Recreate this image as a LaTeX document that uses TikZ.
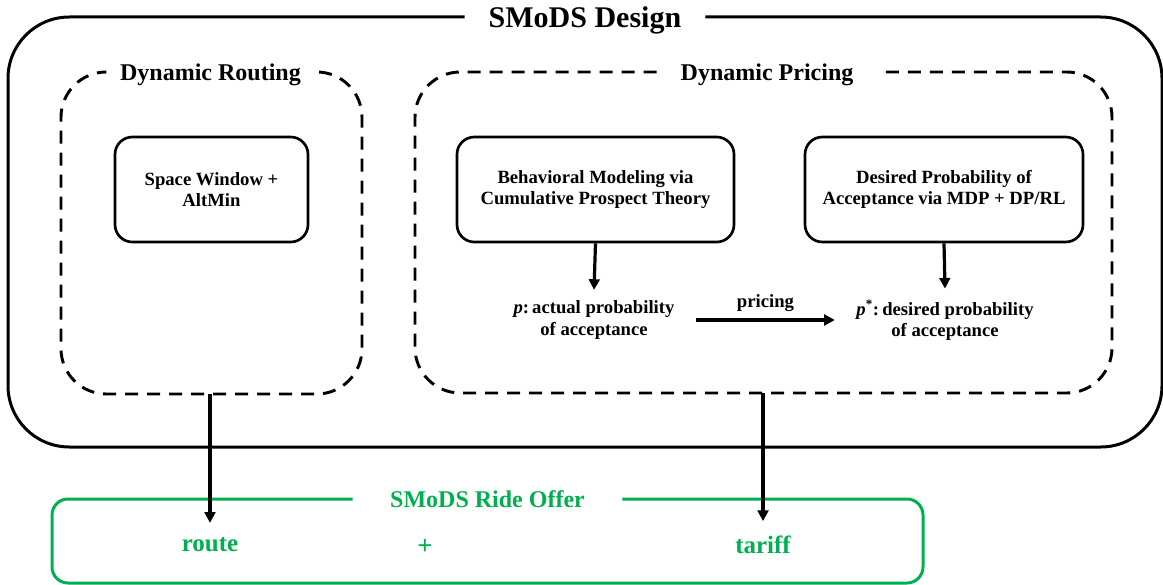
\documentclass[tikz,border=0pt]{standalone}
\usepackage{fontspec}
\setmainfont{Liberation Serif}
\usetikzlibrary{arrows.meta}
\definecolor{offergreen}{HTML}{00B050}
\tikzset{
  frame/.style={draw=none, inner sep=0pt, outer sep=0pt},
  bigtitle/.style={font=\bfseries\fontsize{22.5}{27}\selectfont, text depth=0pt, inner xsep=0pt, inner ysep=2pt},
  subtitle/.style={font=\bfseries\fontsize{18}{21}\selectfont, text depth=0pt, inner xsep=0pt, inner ysep=2pt},
  outerline/.style={line width=2.25pt, rounded corners=46pt},
  dashline/.style={line width=2.2pt, dash pattern=on 9.75pt off 6.75pt, rounded corners=34pt},
  greenline/.style={draw=offergreen, line width=2.25pt, rounded corners=12pt},
  stepbox/.style={draw, line width=2pt, rounded corners=13pt, align=center,
    font=\bfseries\fontsize{14}{16}\selectfont, inner sep=0pt},
  plain/.style={align=center, font=\bfseries\fontsize{14}{16}\selectfont, inner xsep=16pt, inner ysep=8pt},
  greentext/.style={text=offergreen, font=\bfseries\fontsize{18.75}{22}\selectfont},
  arr/.style={draw=black, line width=2.4pt, -{Triangle[width=8pt,length=8pt]}}
}
\begin{document}
\begin{tikzpicture}[x=0.75pt,y=-0.75pt]
\useasboundingbox (0,0) rectangle (1163,585);

% container frames (invisible nodes; borders drawn below)
\node[frame, minimum width=865.5pt, minimum height=322.5pt] (outer) at (585,232) {};
\node[frame, minimum width=225.75pt, minimum height=241.5pt] (routing) at (211.5,233) {};
\node[frame, minimum width=522.75pt, minimum height=240.75pt] (pricing) at (763.5,232.5) {};
\node[frame, minimum width=653.25pt, minimum height=63pt] (offer) at (487.5,541) {};

% titles
\node[bigtitle, minimum width=180pt] (dtitle) at (585,17) {SMoDS Design};
\node[subtitle, minimum width=161.25pt] (rtitle) at (210.5,72) {Dynamic Routing};
\node[subtitle, minimum width=165pt] (ptitle) at (767,72) {Dynamic Pricing};
\node[subtitle, text=offergreen, minimum width=201.75pt] (otitle) at (487.5,499) {SMoDS Ride Offer};

% borders
\draw[outerline] (dtitle.west) -- (outer.north west) -- (outer.south west)
  -- (outer.south east) -- (outer.north east) -- (dtitle.east);
\draw[dashline] (rtitle.west) -- (routing.north west) -- (routing.south west)
  -- (routing.south east) -- (routing.north east) -- (rtitle.east);
\draw[dashline] (ptitle.west) -- (pricing.north west) -- (pricing.south west)
  -- (pricing.south east) -- (pricing.north east) -- (ptitle.east);
\draw[greenline] (otitle.west) -- (offer.north west) -- (offer.south west)
  -- (offer.south east) -- (offer.north east) -- (otitle.east);

% boxes
\node[stepbox, minimum width=144.75pt, minimum height=78.75pt] (sw) at (211.5,189.5)
  {Space Window +\\AltMin};
\node[stepbox, minimum width=207.75pt, minimum height=78.75pt] (beh) at (595.5,189.5)
  {Behavioral Modeling via\\Cumulative Prospect Theory};
\node[stepbox, minimum width=208.5pt, minimum height=78.75pt] (des) at (944,189.5)
  {Desired Probability of\\Acceptance via MDP + DP/RL};

% probabilities
\node[plain] (pact) at (594,320) {\textit{p}:\,actual probability\\of acceptance};
\node[plain] (pdes) at (945,320) {\textit{p}\textsuperscript{*}:\,desired probability\\of acceptance};

\draw[arr] (beh.south) -- (pact.north);
\draw[arr] (des.south) -- (pdes.north);
\draw[arr] (pact.east) -- node[above, font=\bfseries\fontsize{14}{16}\selectfont, inner sep=5pt] (plabel) {pricing} (pdes.west);

% offer contents
\node[greentext, inner ysep=11pt] (route) at (210,545) {route};
\node[greentext, font=\bfseries\fontsize{20}{22}\selectfont] (plus) at (425,547) {+};
\node[greentext, inner ysep=11pt] (tariff) at (763,545) {tariff};

\draw[arr] (routing.south -| route.north) -- (route.north);
\draw[arr] (pricing.south -| tariff.north) -- (tariff.north);
\end{tikzpicture}
\end{document}
